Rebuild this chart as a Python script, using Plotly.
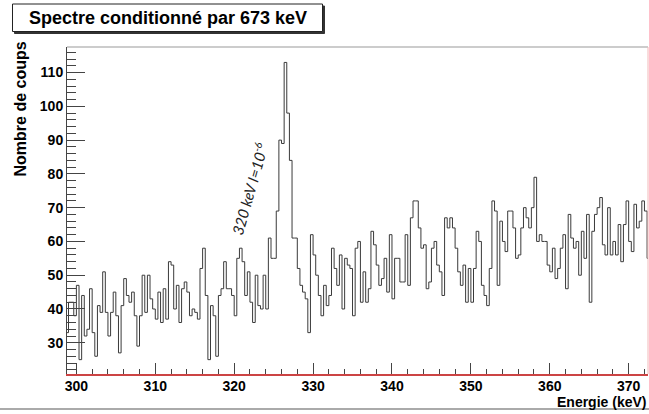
import plotly.graph_objects as go

# ---- data ----
bin_start = 298.0 + 2.0 / 3.0      # keV, lower edge of first bin
bin_width = 1.0 / 3.0              # keV
counts = [
    33, 42, 42, 38, 47, 25, 44, 32, 34, 46, 33, 26, 41, 39, 51, 39, 32, 39, 45, 38,
    27, 41, 49, 44, 42, 45, 38, 29, 38, 50, 39, 50, 43, 40, 37, 45, 36, 46, 37, 54,
    53, 40, 47, 36, 46, 48, 45, 38, 40, 39, 37, 52, 58, 44, 25, 41, 38, 26, 44, 46,
    54, 46, 46, 44, 38, 55, 58, 54, 44, 51, 42, 36, 50, 41, 40, 50, 40, 61, 55, 55,
    69, 90, 89, 113, 98, 84, 61, 61, 52, 47, 45, 43, 33, 62, 56, 50, 44, 38, 47, 41,
    44, 58, 52, 47, 56, 40, 55, 53, 52, 38, 58, 60, 42, 51, 42, 46, 63, 59, 53, 47,
    49, 55, 45, 62, 43, 55, 55, 48, 48, 62, 47, 67, 72, 72, 64, 58, 59, 46, 48, 58,
    60, 53, 51, 44, 67, 64, 67, 64, 58, 51, 47, 53, 42, 52, 42, 52, 63, 60, 47, 44,
    41, 52, 72, 69, 47, 66, 60, 57, 69, 69, 64, 55, 56, 64, 70, 67, 64, 70, 79, 60,
    62, 60, 60, 53, 51, 58, 49, 52, 58, 62, 46, 68, 61, 58, 60, 50, 63, 55, 68, 42,
    63, 68, 70, 73, 59, 56, 70, 56, 60, 56, 65, 54, 65, 72, 60, 57, 71, 64, 66, 72,
    69, 55,
]
x_tick_values = [300, 310, 320, 330, 340, 350, 360, 370]
y_tick_values = [30, 40, 50, 60, 70, 80, 90, 100, 110]
x_range = [298.81, 372.45]
y_range = [20.75, 117.57]

title_text = "Spectre conditionné par 673 keV"
x_title = "Energie (keV)"
y_title = "Nombre de coups"
peak_label = "320 keV I=10<sup>-6</sup>"
peak_label_pos = (321.85, 75.8)

# ---- build step outline ----
edges = [bin_start + i * bin_width for i in range(len(counts) + 1)]
ys = counts + [counts[-1]]

W, H = 649, 414
L, R, T, B = 67, 1, 47, 40
pw, ph = W - L - R, H - T - B


def px(xp):
    return (xp - L) / pw


def py(yp):
    return (H - B - yp) / ph


fig = go.Figure()
fig.add_trace(go.Scatter(
    x=edges, y=ys, mode="lines", line_shape="hv",
    line=dict(color="#3a3a3a", width=1), hoverinfo="skip", showlegend=False,
))

FONT = "Liberation Sans"
fig.update_layout(
    width=W, height=H,
    margin=dict(l=L, r=R, t=T, b=B),
    paper_bgcolor="white", plot_bgcolor="white",
    showlegend=False,
    xaxis=dict(
        range=x_range, tickvals=x_tick_values, ticks="inside", ticklen=11,
        tickcolor="#444", tickwidth=1, showgrid=False, zeroline=False,
        showline=True, linecolor="#cc4444", linewidth=2,
        ticklabelstandoff=-2,
        tickfont=dict(family=FONT, size=14, color="black", weight="bold"),
        minor=dict(dtick=2, tick0=300, ticks="inside", ticklen=5, tickcolor="#444"),
    ),
    yaxis=dict(
        range=y_range, tickvals=y_tick_values, ticks="inside", ticklen=18,
        tickcolor="#444", tickwidth=1, showgrid=False, zeroline=False,
        showline=True, linecolor="#444", linewidth=1,
        tickfont=dict(family=FONT, size=14, color="black", weight="bold"),
        minor=dict(dtick=2, tick0=20, ticks="inside", ticklen=9, tickcolor="#444"),
    ),
)

shapes = [
    # top frame line
    dict(type="line", xref="paper", yref="paper", x0=0, x1=1, y0=1, y1=1,
         line=dict(color="#999999", width=1)),
    # right faint red line
    dict(type="line", xref="paper", yref="paper", x0=1, x1=1, y0=0, y1=1,
         line=dict(color="#f2b8b8", width=1)),
    # title box shadow
    dict(type="rect", xref="paper", yref="paper",
         x0=px(14.5), x1=px(324.5), y0=py(33.5), y1=py(6),
         line=dict(color="#333", width=1), fillcolor="#333"),
    # title box
    dict(type="rect", xref="paper", yref="paper",
         x0=px(12.5), x1=px(322.5), y0=py(31.5), y1=py(4),
         line=dict(color="#222", width=1), fillcolor="white"),
    # bottom gray rule
    dict(type="line", xref="paper", yref="paper", x0=px(0), x1=px(W), y0=py(409), y1=py(409),
         line=dict(color="#aaaaaa", width=2)),
]
fig.update_layout(shapes=shapes)

annotations = [
    dict(text=title_text, xref="paper", yref="paper", x=px(167.5), y=py(18),
         xanchor="center", yanchor="middle", showarrow=False,
         font=dict(family=FONT, size=18, color="black", weight="bold")),
    dict(text=x_title, xref="paper", yref="paper", x=px(648), y=py(402),
         xanchor="right", yanchor="middle", showarrow=False,
         font=dict(family=FONT, size=14, color="black", weight="bold")),
    dict(text=y_title, xref="paper", yref="paper", x=px(20), y=py(40),
         xanchor="center", yanchor="top", textangle=-90, showarrow=False,
         font=dict(family=FONT, size=16, color="black", weight="bold")),
    dict(text=peak_label, x=peak_label_pos[0], y=peak_label_pos[1], xref="x", yref="y",
         xanchor="center", yanchor="middle", textangle=-74, showarrow=False,
         font=dict(family="Lato", size=15, color="#222", style="italic")),
]
fig.update_layout(annotations=annotations)

fig.write_html(
    "out.html",
    config={"displayModeBar": False},
    post_script="document.body.style.margin='0';document.body.style.padding='0';",
)
